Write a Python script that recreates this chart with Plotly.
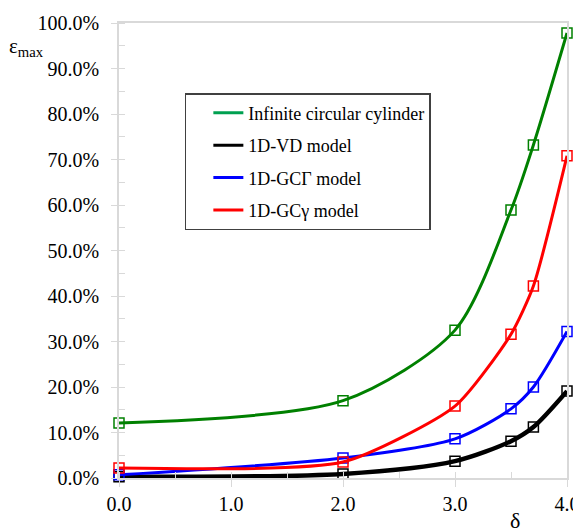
import plotly.graph_objects as go

delta = [0.0, 2.0, 3.0, 3.5, 3.7, 4.0]
cylinder = [0.121, 0.170, 0.325, 0.589, 0.732, 0.978]
vd_model = [0.003, 0.009, 0.037, 0.081, 0.112, 0.191]
gcG_model = [0.007, 0.044, 0.086, 0.152, 0.200, 0.322]
gcg_model = [0.022, 0.035, 0.158, 0.316, 0.422, 0.708]

names = ["Infinite circular cylinder", "1D-VD model", "1D-GCΓ model", "1D-GCγ model"]
series = [cylinder, vd_model, gcG_model, gcg_model]
colors = ["#008000", "#000000", "#0000ff", "#ff0000"]
legend_colors = ["#00a050", "#000000", "#0000ff", "#ff0000"]
widths = [3, 4.5, 3, 3]
smooth = [0.8, 0.8, 0.8, 0.6]

x_ticks = [0, 1, 2, 3, 4]
y_ticks = [i / 10 for i in range(11)]

fig = go.Figure()
for name, ys, c, w, s in zip(names, series, colors, widths, smooth):
    fig.add_trace(go.Scatter(
        x=delta, y=ys, mode="lines+markers",
        line=dict(color=c, width=w, shape="spline", smoothing=s),
        marker=dict(symbol="square-open", size=10, color=c, line=dict(width=1.5, color=c)),
        showlegend=False, cliponaxis=False))
for i, (name, c) in enumerate(zip(names, legend_colors)):
    fig.add_trace(go.Scatter(
        x=[None], y=[None], mode="lines", name=name,
        line=dict(color=c, width=3), legendgroup=f"g{i}"))

font = '"Liberation Serif", "Times New Roman", serif'
# page body has an 8px margin: figure is sized to fit the 581x528 window
fig.update_layout(
    width=573, height=520,
    margin=dict(l=111, r=14, t=15, b=50, autoexpand=False),
    plot_bgcolor="white", paper_bgcolor="white",
    font=dict(family=font, size=20, color="black"),
    showlegend=True,
    legend=dict(x=0.147, y=0.846, xanchor="left", yanchor="top",
                bordercolor="#404040", borderwidth=1.5,
                font=dict(family=font, size=18, color="black"),
                traceorder="grouped", tracegroupgap=6, indentation=22,
                bgcolor="white"),
    xaxis=dict(range=[0, 4], tickvals=x_ticks, tickformat=".1f", automargin=False,
               showgrid=False, zeroline=False, showline=True, mirror=True,
               linecolor="#d9d9d9", linewidth=1.5,
               ticks="outside", ticklen=7, tickcolor="#d9d9d9",
               minor=dict(dtick=0.5, ticks="inside", ticklen=6, tickcolor="#d9d9d9"),
               tickfont=dict(family=font, size=20)),
    yaxis=dict(range=[0, 1.0], tickvals=y_ticks, tickformat=".1%", automargin=False,
               showgrid=False, zeroline=False, showline=True, mirror=True,
               linecolor="#d9d9d9", linewidth=1.5,
               ticks="outside", ticklen=6, tickcolor="#d9d9d9",
               ticklabelstandoff=8,
               minor=dict(dtick=0.05, ticks="inside", ticklen=6, tickcolor="#d9d9d9"),
               tickfont=dict(family=font, size=20)),
    annotations=[
        dict(text="ε<sub>max</sub>", xref="paper", yref="paper",
             x=-0.25, y=0.948, xanchor="left", yanchor="middle", showarrow=False,
             font=dict(family=font, size=21)),
        dict(text="δ", xref="paper", yref="paper",
             x=0.885, y=-0.062, xanchor="center", yanchor="top", showarrow=False,
             font=dict(family=font, size=22)),
    ],
)
fig.write_html("out.html")
